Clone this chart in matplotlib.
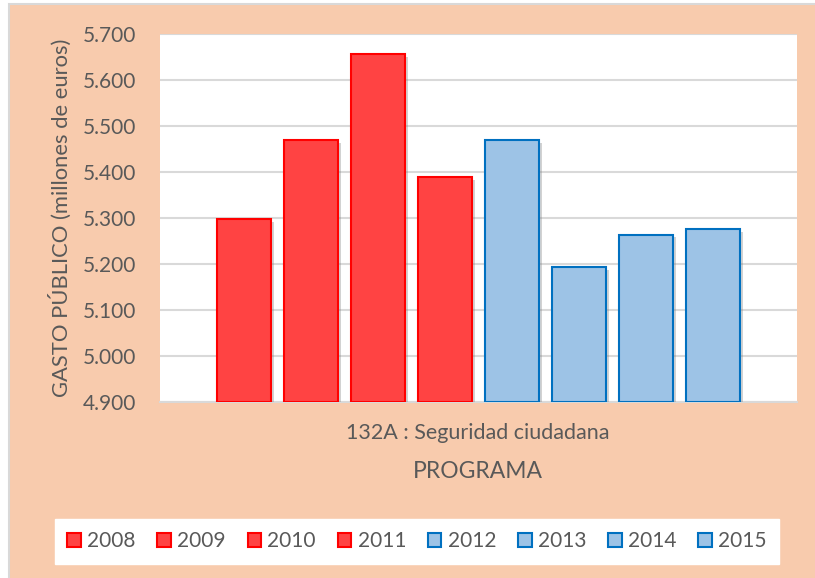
import matplotlib
matplotlib.use("Agg")
import matplotlib.pyplot as plt
import matplotlib.patches as mpatches
import matplotlib.patheffects as pe
from matplotlib.ticker import FuncFormatter

# ========= DATA =========
years = ["2008", "2009", "2010", "2011", "2012", "2013", "2014", "2015"]
gasto = [5298, 5470, 5657, 5389, 5469, 5193, 5264, 5276]   # millones de euros
category = "132A : Seguridad ciudadana"
y_ticks = [4900, 5000, 5100, 5200, 5300, 5400, 5500, 5600, 5700]

# ========= STYLE =========
BG = "#F8CBAD"
TXT = "#595959"
GRID = "#D9D9D9"
RED_FILL, RED_EDGE = "#FF4343", "#FF0000"
BLUE_FILL, BLUE_EDGE = "#9DC3E6", "#0070C0"
plt.rcParams["font.family"] = ["Lato", "DejaVu Sans"]

fig = plt.figure(figsize=(8.15, 5.78), dpi=100, facecolor="white")
# peach chart area with thin grey border
fig.patches.append(mpatches.Rectangle((9 / 815, -0.01), 1.0, 1.0 - 4 / 578 + 0.01,
                                      transform=fig.transFigure, facecolor=BG,
                                      edgecolor=GRID, linewidth=1.5, zorder=-10))

ax = fig.add_axes([160 / 815, (578 - 402) / 578, (797 - 160) / 815, (402 - 34) / 578])
ax.set_facecolor("white")

shadow = [pe.SimplePatchShadow(offset=(2.5, -2), shadow_rgbFace="#7f7f7f", alpha=0.35), pe.Normal()]
handles = []
for i, (yr, v) in enumerate(zip(years, gasto)):
    red = int(yr) <= 2011
    fc = RED_FILL if red else BLUE_FILL
    ec = RED_EDGE if red else BLUE_EDGE
    b = ax.bar(i, v - y_ticks[0], bottom=y_ticks[0], width=0.8, color=fc,
               edgecolor=ec, linewidth=1.5, zorder=3, label=yr)
    for p in b:
        p.set_path_effects(shadow)
    handles.append(mpatches.Patch(facecolor=fc, edgecolor=ec, linewidth=1.5, label=yr))

ax.set_xlim(-1.25, 8.25)
ax.set_ylim(y_ticks[0], y_ticks[-1])
ax.set_yticks(y_ticks)
ax.yaxis.set_major_formatter(FuncFormatter(lambda v, _: f"{v / 1000:.3f}"))
ax.grid(axis="y", color=GRID, linewidth=1.5, zorder=0)
ax.set_xticks([])
for s in ["top", "right", "left"]:
    ax.spines[s].set_visible(False)
ax.spines["bottom"].set_color(GRID)
ax.spines["bottom"].set_linewidth(1.5)
ax.tick_params(axis="y", length=0, pad=17, labelsize=15, labelcolor=TXT)

ax.set_ylabel("GASTO PÚBLICO (millones de euros)", fontsize=15.8, color=TXT)
ax.yaxis.set_label_coords((72 - 160) / 637, 0.5)
fig.text(478 / 815, (578 - 433) / 578, category, ha="center", va="center", fontsize=15.5, color=TXT)
fig.text(478 / 815, (578 - 471) / 578, "PROGRAMA", ha="center", va="center", fontsize=16.5, color=TXT)

leg = fig.legend(handles=handles, loc="center", bbox_to_anchor=(417 / 815, (578 - 541) / 578),
                 ncol=8, fontsize=15, frameon=True, fancybox=False, borderpad=0.6,
                 handlelength=0.65, handleheight=0.65, handletextpad=0.3, columnspacing=1.05,
                 labelcolor=TXT, borderaxespad=0)
leg.get_frame().set_facecolor("white")
leg.get_frame().set_edgecolor("white")
leg.get_frame().set_alpha(1)

fig.savefig("out.png", dpi=100, facecolor=fig.get_facecolor())
